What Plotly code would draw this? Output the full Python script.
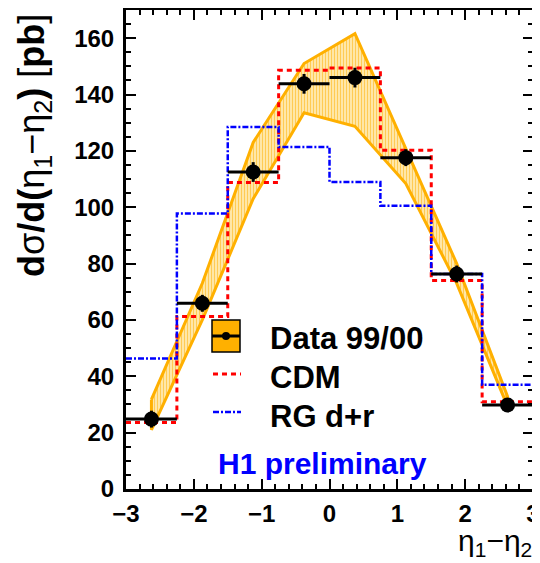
import plotly.graph_objects as go

# ---- data ----
bin_edges = [-3.0, -2.25, -1.5, -0.75, 0.0, 0.75, 1.5, 2.25, 3.0]
bin_centers = [-2.625, -1.875, -1.125, -0.375, 0.375, 1.125, 1.875, 2.625]
bin_halfwidth = [0.375] * 8
data_vals = [24.8, 65.9, 112.5, 143.8, 146.0, 117.6, 76.3, 29.8]
data_stat_err = [3.0, 3.0, 3.5, 3.5, 3.5, 3.0, 3.0, 2.5]
band_upper = [31.8, 73.0, 123.0, 151.0, 161.6, 120.8, 80.0, 32.8]
band_lower = [21.0, 60.0, 103.0, 133.5, 128.7, 108.4, 73.0, 29.3]
cdm_vals = [23.6, 61.2, 108.8, 148.6, 149.4, 120.2, 74.0, 31.0]
rg_vals = [46.3, 97.8, 128.5, 121.4, 109.0, 100.5, 76.3, 37.0]
x_ticks = [-3, -2, -1, 0, 1, 2, 3]
y_ticks = [0, 20, 40, 60, 80, 100, 120, 140, 160]

ORANGE = "#FFB000"
LIGHT = "#FFE7A8"
RED = "#FF0000"
BLUE = "#0000FF"
FONT = "Liberation Sans"

fig = go.Figure()

# systematic band (closed polygon)
fig.add_trace(go.Scatter(
    x=bin_centers + bin_centers[::-1] + [bin_centers[0]],
    y=band_upper + band_lower[::-1] + [band_upper[0]],
    mode="lines", fill="toself",
    fillcolor=LIGHT,
    fillpattern=dict(shape="|", fgcolor=ORANGE, bgcolor=LIGHT, size=3, solidity=0.35),
    line=dict(color=ORANGE, width=3),
    showlegend=False, hoverinfo="skip"))

# CDM step
fig.add_trace(go.Scatter(
    x=bin_edges, y=cdm_vals + [cdm_vals[-1]],
    mode="lines", line=dict(color=RED, width=3, dash="5px,4px", shape="hv"),
    showlegend=False))

# RG d+r step
fig.add_trace(go.Scatter(
    x=bin_edges, y=rg_vals + [rg_vals[-1]],
    mode="lines", line=dict(color=BLUE, width=2.5, dash="6px,2px,2px,2px", shape="hv"),
    showlegend=False))

# data points
fig.add_trace(go.Scatter(
    x=bin_centers, y=data_vals, mode="markers",
    marker=dict(color="black", size=15),
    error_x=dict(type="data", array=bin_halfwidth, color="black", thickness=3, width=0),
    error_y=dict(type="data", array=data_stat_err, color="black", thickness=3, width=0),
    showlegend=False))

# page body has an 8px margin: size the figure so it fits the 540x563 window
OFF = 8
W, H = 540 - OFF, 563 - OFF
L, R, T, B = 126 - OFF, 7, 10 - OFF, 74
pw, ph = W - L - R, H - T - B


def px(xp):
    return (xp - OFF - L) / pw


def py(yp):
    return (H - B - (yp - OFF)) / ph


shapes = []
# legend: data box
shapes.append(dict(type="rect", xref="paper", yref="paper",
                   x0=px(212), x1=px(240), y0=py(352), y1=py(320),
                   fillcolor=ORANGE, line=dict(color="black", width=1.5)))
shapes.append(dict(type="line", xref="paper", yref="paper",
                   x0=px(212), x1=px(240), y0=py(336), y1=py(336),
                   line=dict(color="black", width=3)))
shapes.append(dict(type="circle", xref="paper", yref="paper",
                   x0=px(222), x1=px(230), y0=py(340), y1=py(332),
                   fillcolor="black", line=dict(color="black", width=0)))
shapes.append(dict(type="line", xref="paper", yref="paper",
                   x0=px(213), x1=px(241), y0=py(374), y1=py(374),
                   line=dict(color=RED, width=3, dash="5px,4px")))
shapes.append(dict(type="line", xref="paper", yref="paper",
                   x0=px(213), x1=px(241), y0=py(412), y1=py(412),
                   line=dict(color=BLUE, width=2.5, dash="6px,2px,2px,2px")))

annotations = []
for txt, yc in [("Data 99/00", 338), ("CDM", 377), ("RG d+r", 416)]:
    annotations.append(dict(text="<b>%s</b>" % txt, xref="paper", yref="paper",
                            x=px(268), y=py(yc), xanchor="left", yanchor="middle",
                            showarrow=False, font=dict(family=FONT, size=31, color="black")))
annotations.append(dict(text="<b>H1 preliminary</b>", xref="paper", yref="paper",
                        x=px(322), y=py(463), xanchor="center", yanchor="middle",
                        showarrow=False, font=dict(family=FONT, size=30, color=BLUE)))
annotations.append(dict(text="<b>d</b>σ<b>/d(</b>η<sub>1</sub>−η<sub>2</sub><b>)</b> [<b>pb</b>]",
                        xref="paper", yref="paper", x=px(34), y=py(146),
                        xanchor="center", yanchor="middle", textangle=-90,
                        showarrow=False, font=dict(family=FONT, size=36, color="black")))
annotations.append(dict(text="η<sub>1</sub>−η<sub>2</sub>", xref="paper", yref="paper",
                        x=px(534), y=py(522), xanchor="right", yanchor="top",
                        showarrow=False, font=dict(family=FONT, size=30, color="black")))

axis_common = dict(showline=True, linecolor="black", linewidth=3, mirror="ticks",
                   ticks="inside", ticklen=10, tickwidth=1.5, tickcolor="black",
                   showgrid=False, zeroline=False, automargin=False,
                   tickfont=dict(family=FONT, size=24, color="black", weight="bold"))

fig.update_layout(
    width=W, height=H, margin=dict(l=L, r=R, t=T, b=B, autoexpand=False),
    plot_bgcolor="white", paper_bgcolor="white",
    xaxis=dict(range=[-3, 3], tickvals=x_ticks, ticklabelstandoff=1,
               minor=dict(dtick=0.2, tick0=-3, ticks="inside", ticklen=5, tickwidth=1.5, tickcolor="black"),
               **axis_common),
    yaxis=dict(range=[0, 170], tickvals=y_ticks, ticklabelstandoff=4,
               minor=dict(dtick=5, tick0=0, ticks="inside", ticklen=5, tickwidth=1.5, tickcolor="black"),
               **axis_common),
    shapes=shapes, annotations=annotations, showlegend=False,
)

fig.write_html("out.html")
